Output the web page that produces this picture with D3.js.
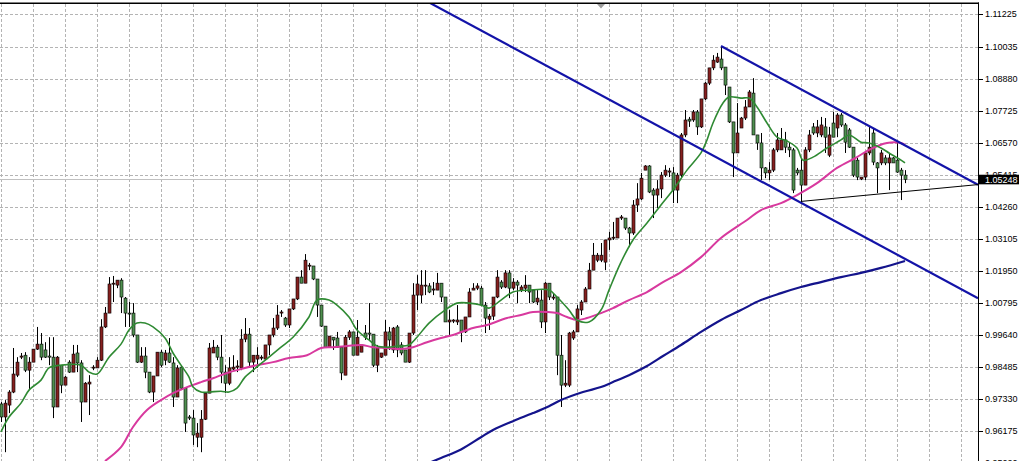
<!DOCTYPE html>
<html><head><meta charset="utf-8">
<script src="https://cdn.jsdelivr.net/npm/d3@7"></script>
<style>html,body{margin:0;padding:0;background:#fff;overflow:hidden}svg{display:block}</style>
</head><body><svg id="c" width="1019" height="461"></svg>
<script>
// ---- data: daily candles (price) ----
const open=[
0.9714,0.9667,0.9710,0.9757,0.9818,0.9883,0.9890,0.9836,0.9865,0.9912,
0.9930,0.9909,0.9887,0.9883,0.9703,0.9854,0.9782,0.9865,0.9829,0.9898,
0.9862,0.9721,0.9786,0.9844,0.9844,0.9872,0.9992,1.0042,1.0147,1.0143,
1.0161,1.0096,1.0042,1.0042,0.9963,0.9865,0.9887,0.9829,0.9757,0.9815,
0.9901,0.9872,0.9898,0.9862,0.9739,0.9847,0.9771,0.9667,0.9663,0.9594,
0.9594,0.9659,0.9753,0.9898,0.9919,0.9883,0.9829,0.9789,0.9840,0.9847,
0.9844,0.9948,0.9966,0.9865,0.9876,0.9880,0.9876,0.9927,0.9963,0.9988,
1.0042,1.0024,0.9999,1.0057,1.0093,1.0172,1.0150,1.0212,1.0212,1.0165,
1.0071,0.9995,0.9919,0.9955,0.9952,0.9919,0.9818,0.9955,0.9974,0.9890,
0.9901,0.9970,0.9970,0.9966,0.9854,0.9883,0.9890,0.9974,0.9909,0.9992,
0.9927,0.9909,0.9865,0.9970,1.0107,1.0107,1.0140,1.0140,1.0125,1.0125,
1.0150,1.0100,1.0010,1.0013,1.0010,1.0017,0.9974,1.0028,1.0125,1.0132,
1.0132,1.0071,1.0020,1.0031,1.0100,1.0154,1.0136,1.0187,1.0132,1.0154,
1.0125,1.0132,1.0143,1.0125,1.0082,1.0089,1.0010,1.0150,1.0096,1.0100,
0.9890,0.9782,0.9782,0.9952,0.9974,1.0053,1.0082,1.0129,1.0197,1.0233,
1.0233,1.0226,1.0306,1.0313,1.0313,1.0385,1.0385,1.0349,1.0331,1.0432,
1.0454,1.0558,1.0573,1.0486,1.0468,1.0490,1.0540,1.0551,1.0548,1.0486,
1.0540,1.0685,1.0742,1.0739,1.0768,1.0714,1.0815,1.0872,1.0927,1.0948,
1.0959,1.0930,1.0858,1.0732,1.0620,1.0710,1.0746,1.0786,1.0836,1.0685,
1.0656,1.0566,1.0548,1.0558,1.0631,1.0631,1.0667,1.0641,1.0631,1.0558,
1.0558,1.0504,1.0631,1.0714,1.0692,1.0685,1.0714,1.0612,1.0728,1.0710,
1.0757,1.0721,1.0703,1.0641,1.0594,1.0526,1.0533,1.0620,1.0692,1.0584,
1.0584,1.0602,1.0584,1.0602,1.0594,1.0558,1.0540];
const high=[
0.9721,0.9728,0.9764,0.9916,0.9883,0.9898,0.9901,0.9883,0.9912,0.9992,
0.9970,0.9937,0.9955,0.9955,0.9887,0.9854,0.9815,0.9872,0.9927,0.9927,
0.9872,0.9793,0.9818,0.9854,0.9883,1.0020,1.0064,1.0172,1.0176,1.0161,
1.0168,1.0100,1.0082,1.0078,0.9963,0.9919,0.9919,0.9829,0.9815,0.9901,
0.9909,0.9909,0.9952,0.9883,0.9854,0.9854,0.9771,0.9674,0.9692,0.9645,
0.9692,0.9753,0.9934,0.9945,0.9927,0.9963,0.9854,0.9883,0.9890,0.9872,
0.9984,1.0024,0.9988,0.9890,0.9919,0.9890,0.9927,0.9963,1.0024,1.0071,
1.0053,1.0028,1.0057,1.0093,1.0172,1.0197,1.0255,1.0223,1.0212,1.0165,
1.0071,0.9995,0.9959,0.9955,0.9974,0.9919,0.9963,0.9981,0.9974,1.0017,
0.9927,0.9999,1.0078,0.9966,0.9927,0.9898,1.0017,0.9992,0.9992,0.9999,
0.9937,0.9909,0.9970,1.0150,1.0179,1.0197,1.0197,1.0150,1.0154,1.0187,
1.0150,1.0100,1.0053,1.0020,1.0071,1.0017,1.0028,1.0132,1.0150,1.0150,
1.0140,1.0082,1.0039,1.0100,1.0197,1.0161,1.0197,1.0197,1.0168,1.0161,
1.0143,1.0179,1.0143,1.0125,1.0125,1.0125,1.0154,1.0150,1.0114,1.0100,
0.9963,0.9872,0.9974,0.9981,1.0071,1.0089,1.0136,1.0223,1.0295,1.0259,
1.0295,1.0306,1.0335,1.0371,1.0385,1.0396,1.0385,1.0353,1.0450,1.0511,
1.0548,1.0576,1.0576,1.0493,1.0522,1.0551,1.0576,1.0566,1.0569,1.0548,
1.0692,1.0775,1.0750,1.0775,1.0775,1.0815,1.0876,1.0927,1.0973,1.0981,
1.1006,1.0930,1.0858,1.0732,1.0800,1.0750,1.0811,1.0847,1.0890,1.0685,
1.0692,1.0569,1.0587,1.0638,1.0692,1.0710,1.0696,1.0656,1.0638,1.0566,
1.0602,1.0641,1.0703,1.0728,1.0739,1.0750,1.0746,1.0714,1.0768,1.0764,
1.0764,1.0728,1.0710,1.0641,1.0602,1.0533,1.0623,1.0714,1.0710,1.0587,
1.0631,1.0612,1.0620,1.0605,1.0656,1.0566,1.0558];
const low=[
0.9649,0.9540,0.9681,0.9753,0.9811,0.9876,0.9829,0.9764,0.9865,0.9909,
0.9872,0.9880,0.9854,0.9663,0.9703,0.9753,0.9782,0.9826,0.9829,0.9829,
0.9649,0.9721,0.9674,0.9836,0.9844,0.9869,0.9988,1.0042,1.0082,1.0132,
1.0042,0.9992,0.9992,0.9955,0.9862,0.9862,0.9807,0.9753,0.9721,0.9815,
0.9847,0.9854,0.9862,0.9703,0.9739,0.9764,0.9613,0.9656,0.9566,0.9558,
0.9540,0.9656,0.9753,0.9898,0.9872,0.9789,0.9753,0.9782,0.9836,0.9829,
0.9836,0.9937,0.9844,0.9829,0.9844,0.9872,0.9872,0.9890,0.9955,0.9981,
1.0028,0.9992,0.9988,1.0053,1.0089,1.0150,1.0150,1.0197,1.0161,1.0028,
0.9992,0.9916,0.9916,0.9909,0.9916,0.9800,0.9818,0.9945,0.9890,0.9890,
0.9901,0.9945,0.9945,0.9847,0.9829,0.9880,0.9890,0.9909,0.9898,0.9883,
0.9890,0.9865,0.9862,0.9963,1.0053,1.0078,1.0107,1.0114,1.0107,1.0125,
1.0082,1.0010,0.9963,1.0006,0.9999,0.9937,0.9970,1.0028,1.0125,1.0125,
1.0067,0.9970,0.9981,1.0017,1.0096,1.0129,1.0132,1.0096,1.0125,1.0078,
1.0118,1.0118,1.0078,1.0078,1.0071,0.9988,0.9970,1.0089,1.0089,0.9818,
0.9703,0.9775,0.9775,0.9945,0.9974,1.0035,1.0082,1.0129,1.0197,1.0226,
1.0226,1.0197,1.0270,1.0306,1.0313,1.0378,1.0342,1.0280,1.0324,1.0407,
1.0450,1.0558,1.0475,1.0385,1.0421,1.0457,1.0533,1.0533,1.0439,1.0439,
1.0533,1.0677,1.0714,1.0732,1.0685,1.0710,1.0811,1.0865,1.0919,1.0945,
1.0919,1.0829,1.0728,1.0533,1.0620,1.0710,1.0739,1.0786,1.0685,1.0631,
1.0522,1.0529,1.0522,1.0551,1.0623,1.0631,1.0620,1.0605,1.0475,1.0540,
1.0443,1.0504,1.0623,1.0685,1.0677,1.0677,1.0620,1.0605,1.0677,1.0677,
1.0714,1.0620,1.0638,1.0533,1.0522,1.0522,1.0522,1.0612,1.0576,1.0475,
1.0576,1.0576,1.0486,1.0584,1.0548,1.0450,1.0511];
const close=[
0.9667,0.9717,0.9757,0.9822,0.9865,0.9887,0.9836,0.9865,0.9912,0.9930,
0.9883,0.9883,0.9883,0.9703,0.9883,0.9782,0.9811,0.9829,0.9894,0.9862,
0.9721,0.9789,0.9793,0.9847,0.9872,0.9992,1.0042,1.0147,1.0150,1.0161,
1.0100,1.0042,1.0039,0.9963,0.9865,0.9887,0.9829,0.9757,0.9815,0.9901,
0.9854,0.9898,0.9865,0.9739,0.9844,0.9771,0.9645,0.9663,0.9602,0.9609,
0.9659,0.9753,0.9916,0.9919,0.9883,0.9829,0.9789,0.9844,0.9847,0.9851,
0.9948,0.9966,0.9865,0.9890,0.9890,0.9883,0.9927,0.9963,0.9988,1.0035,
1.0046,0.9999,1.0057,1.0093,1.0172,1.0150,1.0233,1.0215,1.0165,1.0071,
0.9995,0.9919,0.9959,0.9945,0.9919,0.9826,0.9955,0.9974,0.9890,0.9955,
0.9927,0.9955,0.9966,0.9854,0.9916,0.9898,0.9974,0.9945,0.9988,0.9909,
0.9898,0.9865,0.9970,1.0107,1.0147,1.0143,1.0143,1.0118,1.0129,1.0150,
1.0100,1.0010,1.0017,1.0017,1.0017,0.9974,1.0028,1.0118,1.0132,1.0140,
1.0071,1.0024,1.0031,1.0100,1.0172,1.0136,1.0187,1.0132,1.0154,1.0143,
1.0136,1.0143,1.0118,1.0082,1.0096,1.0010,1.0150,1.0100,1.0100,0.9890,
0.9782,0.9789,0.9970,0.9974,1.0057,1.0082,1.0129,1.0197,1.0251,1.0251,
1.0251,1.0306,1.0313,1.0316,1.0385,1.0389,1.0349,1.0331,1.0432,1.0454,
1.0529,1.0573,1.0479,1.0468,1.0490,1.0540,1.0558,1.0555,1.0486,1.0540,
1.0685,1.0739,1.0735,1.0768,1.0714,1.0815,1.0872,1.0927,1.0955,1.0966,
1.0927,1.0865,1.0732,1.0620,1.0692,1.0746,1.0786,1.0840,1.0685,1.0656,
1.0566,1.0548,1.0558,1.0631,1.0667,1.0667,1.0641,1.0631,1.0486,1.0548,
1.0504,1.0631,1.0685,1.0692,1.0714,1.0721,1.0677,1.0685,1.0677,1.0757,
1.0721,1.0659,1.0641,1.0540,1.0533,1.0533,1.0620,1.0641,1.0587,1.0566,
1.0620,1.0584,1.0602,1.0584,1.0551,1.0540,1.05248];
const bars=d3.range(open.length);

// moving averages: [bar, price]
const maFast=[[0,0.9613],[2,0.9667],[5,0.9717],[7,0.9764],[10,0.9800],[12,0.9844],[15,0.9854],[20,0.9854],[22,0.9829],[24,0.9822],[27,0.9883],[30,0.9930],[32,0.9981],[34,1.0006],[36,1.0006],[38,0.9992],[41,0.9952],[43,0.9898],[45,0.9854],[47,0.9811],[48,0.9775],[50,0.9757],[52,0.9757],[55,0.9760],[57,0.9757],[59,0.9771],[61,0.9811],[63,0.9836],[67,0.9883],[70,0.9919],[73,0.9955],[77,1.0028],[79,1.0089],[82,1.0089],[84,1.0071],[87,1.0028],[89,0.9981],[92,0.9945],[94,0.9923],[97,0.9919],[99,0.9923],[102,0.9927],[104,0.9955],[107,1.0006],[111,1.0053],[114,1.0078],[117,1.0078],[120,1.0071],[122,1.0060],[125,1.0089],[128,1.0118],[132,1.0125],[137,1.0125],[139,1.0100],[142,1.0053],[144,1.0017],[147,1.0010],[150,1.0053],[152,1.0125],[155,1.0226],[158,1.0306],[161.5,1.0367],[165,1.0432],[168,1.0486],[171.5,1.0558],[175,1.0620],[176.5,1.0667],[178,1.0728],[180.5,1.0800],[182,1.0822],[185,1.0818],[187,1.0818],[189,1.0786],[191.5,1.0728],[194,1.0677],[196.5,1.0663],[199,1.0638],[200.5,1.0594],[203,1.0605],[206.5,1.0638],[210,1.0667],[212,1.0685],[215,1.0659],[217,1.0656],[220,1.0638],[222,1.0620],[225,1.0594],[226,1.0584]];
const maSlow=[[26,0.9508],[30,0.9558],[33,0.9631],[36.5,0.9692],[40,0.9728],[43,0.9753],[46.5,0.9775],[50,0.9793],[53,0.9807],[56.5,0.9826],[60,0.9840],[64,0.9854],[68,0.9865],[72,0.9880],[76.5,0.9890],[80,0.9916],[83,0.9919],[86.5,0.9923],[90,0.9927],[93,0.9919],[96.5,0.9916],[100,0.9912],[103,0.9919],[106.5,0.9937],[110,0.9952],[113,0.9963],[118,0.9988],[121.5,0.9999],[126.5,1.0024],[130,1.0035],[133,1.0046],[136.5,1.0046],[139,1.0042],[141.5,1.0028],[144,1.0017],[146.5,1.0024],[150,1.0042],[153,1.0060],[157,1.0089],[161.5,1.0118],[165.5,1.0154],[170,1.0190],[175,1.0244],[180,1.0313],[186.5,1.0378],[190,1.0414],[195,1.0439],[199,1.0468],[204,1.0511],[209,1.0566],[214,1.0605],[217,1.0631],[221.5,1.0656],[225,1.0656],[226,1.0649]];
const maLong=[[107,0.9501],[110,0.9519],[115,0.9550],[120,0.9594],[123,0.9620],[128,0.9652],[133,0.9681],[137,0.9706],[140,0.9728],[145.5,0.9757],[150,0.9775],[153,0.9793],[157,0.9818],[161.5,0.9851],[165.5,0.9887],[170,0.9927],[175,0.9974],[180,1.0017],[185,1.0053],[190,1.0089],[195,1.0114],[200,1.0136],[205,1.0154],[210,1.0172],[215,1.0187],[220,1.0205],[226,1.0230]];

// trend lines: two anchors [bar, price] each
const channelLow=[[110,1.1140],[200,1.0440]];
const channelHigh=[[180,1.1006],[200,1.0850]];
const triangleBase=[[200,1.0445],[240,1.0500]];

const yTicks=[1.11225,1.10035,1.08880,1.07725,1.06570,1.05415,1.04260,1.03105,1.01950,1.00795,0.99640,0.98485,0.97330,0.96175,0.95020];
const bid=1.05248;

// ---- drawing ----
const W=1019,H=461,plotR=978,plotT=4;
const x=d3.scaleLinear().domain([0,244.25]).range([1,978]);
const y=d3.scaleLinear().domain([1.0657,0.96175]).range([142.7,430.7]);
const svg=d3.select('#c');
svg.append('rect').attr('width',W).attr('height',H).attr('fill','#fff');
svg.append('defs').append('clipPath').attr('id','clip').append('rect')
  .attr('x',0).attr('y',plotT).attr('width',plotR).attr('height',H-plotT);
const px=v=>Math.round(v)+0.5;

const grid=svg.append('g').attr('clip-path','url(#clip)');
grid.selectAll('line.h').data(yTicks).join('line').attr('class','h')
  .attr('x1',0).attr('x2',plotR).attr('y1',d=>px(y(d))).attr('y2',d=>px(y(d)))
  .attr('stroke','#b4b4b4').attr('stroke-dasharray','3,2');
grid.selectAll('line.v').data(d3.range(0,245,8)).join('line').attr('class','v')
  .attr('x1',d=>px(x(d))).attr('x2',d=>px(x(d))).attr('y1',plotT).attr('y2',H)
  .attr('stroke','#b4b4b4').attr('stroke-dasharray','3,2');
// bid line
grid.append('line').attr('x1',0).attr('x2',plotR).attr('y1',px(y(bid))).attr('y2',px(y(bid)))
  .attr('stroke','#c0c0c0');

const g=svg.append('g').attr('clip-path','url(#clip)');
g.selectAll('line.wick').data(bars).join('line').attr('class','wick')
  .attr('x1',i=>px(x(i))).attr('x2',i=>px(x(i)))
  .attr('y1',i=>y(high[i])).attr('y2',i=>y(low[i]))
  .attr('stroke','#000').attr('stroke-width',1);
g.selectAll('rect.body').data(bars).join('rect').attr('class','body')
  .attr('x',i=>px(x(i))-1.5).attr('width',3)
  .attr('y',i=>y(Math.max(open[i],close[i])))
  .attr('height',i=>Math.max(1,Math.abs(y(open[i])-y(close[i]))))
  .attr('fill',i=>close[i]>open[i]?'#86201f':'#4f8f4f')
  .attr('stroke','#000').attr('stroke-width',0.6);

const line=d3.line().x(d=>x(d[0])).y(d=>y(d[1])).curve(d3.curveCatmullRom.alpha(0.5));
g.append('path').datum(maLong).attr('d',line).attr('fill','none').attr('stroke','#14148c').attr('stroke-width',2.2);
g.append('path').datum(maSlow).attr('d',line).attr('fill','none').attr('stroke','#d8399e').attr('stroke-width',2);
g.append('path').datum(maFast).attr('d',line).attr('fill','none').attr('stroke','#2f8a33').attr('stroke-width',1.6);

function ray(a,b,from){
  const s=(b[1]-a[1])/(b[0]-a[0]);
  const x0=from, x1=244.25;
  return [[x0,a[1]+(x0-a[0])*s],[x1,a[1]+(x1-a[0])*s]];
}
const straight=d3.line().x(d=>x(d[0])).y(d=>y(d[1]));
g.append('path').datum(ray(channelLow[0],channelLow[1],100)).attr('d',straight)
  .attr('stroke','#1313a8').attr('stroke-width',2.2).attr('fill','none');
g.append('path').datum(ray(channelHigh[0],channelHigh[1],channelHigh[0][0])).attr('d',straight)
  .attr('stroke','#1313a8').attr('stroke-width',2.2).attr('fill','none');
g.append('path').datum(ray(triangleBase[0],triangleBase[1],triangleBase[0][0])).attr('d',straight)
  .attr('stroke','#000').attr('stroke-width',1).attr('fill','none');

// frame
svg.append('line').attr('x1',0).attr('x2',plotR+1).attr('y1',3.2).attr('y2',3.2).attr('stroke','#000').attr('stroke-width',1.4);
svg.append('line').attr('x1',plotR+0.5).attr('x2',plotR+0.5).attr('y1',2.5).attr('y2',H).attr('stroke','#000');
svg.append('path').attr('d','M597,4 L605,4 L601,8.5 Z').attr('fill','#9c9c9c');

// axis
const ax=svg.append('g');
ax.selectAll('line').data(yTicks).join('line')
  .attr('x1',plotR+1).attr('x2',plotR+5).attr('y1',d=>px(y(d))).attr('y2',d=>px(y(d))).attr('stroke','#000');
ax.selectAll('text').data(yTicks).join('text')
  .attr('x',985).attr('y',d=>y(d)).attr('dy','0.36em')
  .attr('font-family','Liberation Sans, Arial, sans-serif').attr('font-size',9).attr('fill','#000')
  .text(d=>d3.format('.5f')(d));
ax.append('rect').attr('x',plotR+1).attr('y',y(bid)-4.6).attr('width',W-plotR-1).attr('height',9.6).attr('fill','#000');
ax.append('text').attr('x',985).attr('y',y(bid)).attr('dy','0.36em')
  .attr('font-family','Liberation Sans, Arial, sans-serif').attr('font-size',9).attr('fill','#fff')
  .text(d3.format('.5f')(bid));
</script></body></html>
